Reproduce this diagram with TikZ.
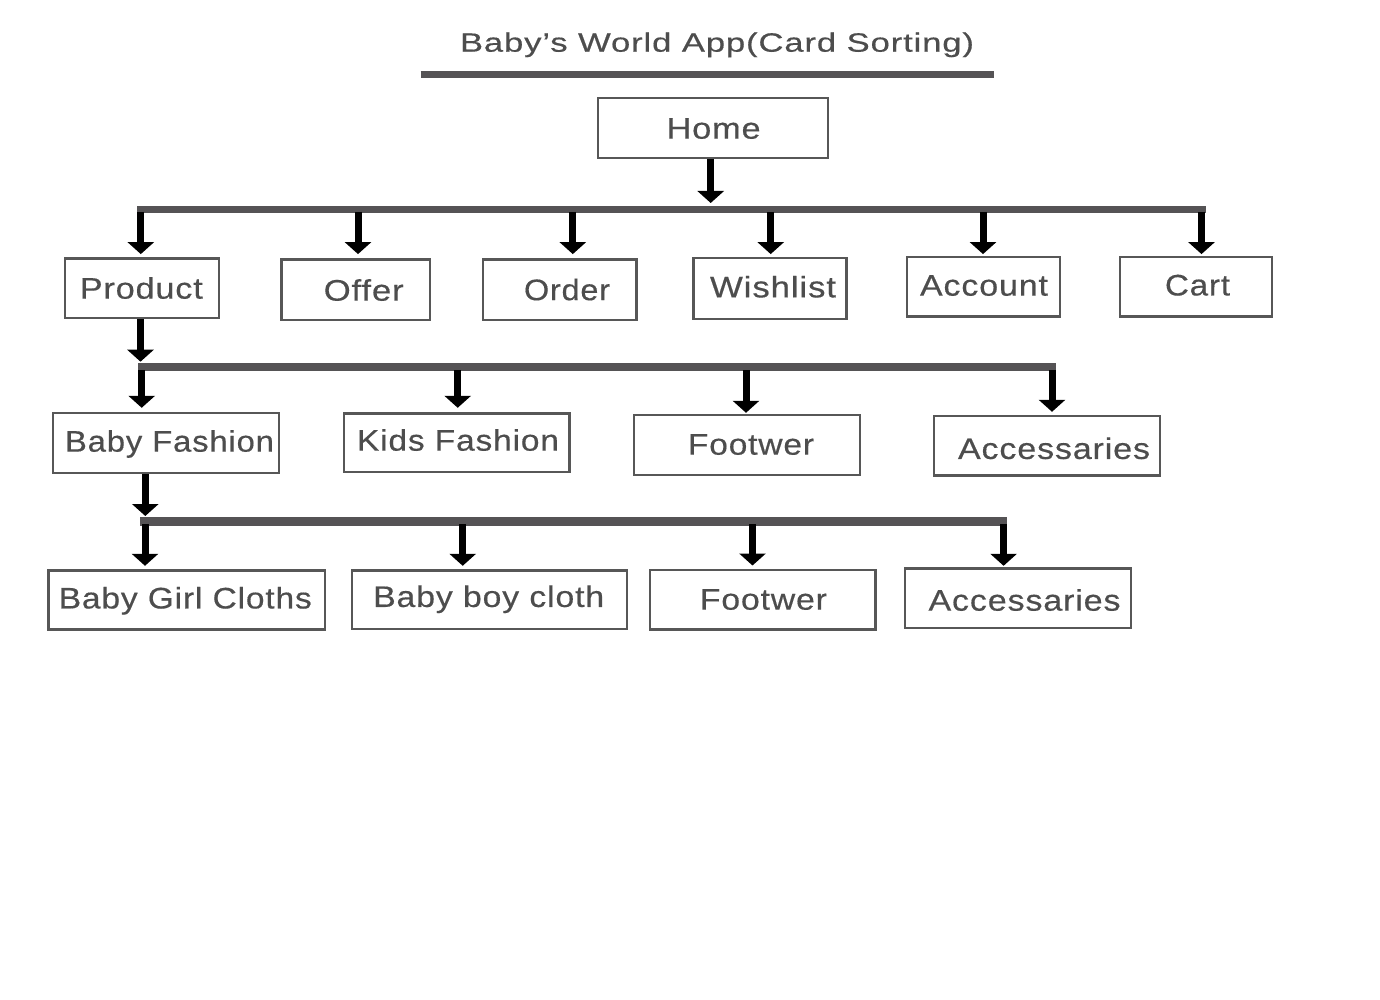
\documentclass[tikz,border=0pt]{standalone}
\usepackage{fontspec}
\setmainfont{Liberation Sans}[LetterSpace=2.5, FakeBold=0.4]
\usetikzlibrary{arrows.meta}
\definecolor{textgray}{HTML}{4D4D4D}
\definecolor{boxgray}{HTML}{575757}
\definecolor{bargray}{HTML}{555355}
\tikzset{
  card/.style={draw=boxgray, line width=2.4pt, rectangle, inner sep=0pt, fill=white},
  lbl/.style={inner sep=0pt, text height=21.3pt, text depth=0pt, text=textgray,
              font=\fontsize{29.7}{34}\selectfont},
  bar/.style={draw=bargray, line cap=butt},
  arr/.style={draw=black, line width=7pt, line cap=butt,
              -{Triangle[width=26pt,length=12pt]}},
}
% name, left, right, top, bottom, text cx, text cy, text width, text
\newcommand\cardnode[9]{%
  \node[card, minimum width={#3-#2-2.4}, minimum height={#5-#4-2.4},
        label={[lbl, xshift={#6-(#2+#3)/2}, yshift={(#4+#5)/2-#7}]center:{\resizebox{#8pt}{\height}{#9}}}]
        (#1) at ({(#2+#3)/2},{(#4+#5)/2}) {};%
}
\begin{document}
\begin{tikzpicture}[x=1pt,y=-1pt]
\useasboundingbox[fill=white] (0,0) rectangle (1380,1000);

% title
\node[lbl, font=\fontsize{26.5}{30}\selectfont, text height=19pt] (title) at (717,42.2)
  {\resizebox{514pt}{\height}{Baby’s World App(Card Sorting)}};
\coordinate (ul1) at (420.5,74.3);
\coordinate (ul2) at (993.7,74.3);
\draw[bar, line width=6.5pt] (ul1) -- (ul2);

% boxes
\cardnode{home}{597}{829}{97}{159}{713.6}{128}{94}{Home}
\cardnode{product}{64}{220}{257.3}{319.3}{141.3}{288}{123}{Product}
\cardnode{offer}{280.3}{431.3}{258.3}{321}{363.7}{290}{80}{Offer}
\cardnode{order}{482}{637.6}{258.3}{321}{567}{289.5}{86}{Order}
\cardnode{wishlist}{692.4}{847.7}{257}{320}{773}{286.7}{126}{Wishlist}
\cardnode{account}{905.8}{1061}{256}{317.7}{984}{285}{128}{Account}
\cardnode{cart}{1118.5}{1273.4}{256}{317.7}{1197.5}{284.8}{65}{Cart}

\cardnode{babyf}{51.7}{280}{411.7}{474}{169.5}{441}{209}{Baby Fashion}
\cardnode{kidsf}{342.7}{570.7}{412.3}{473.3}{458}{440}{202}{Kids Fashion}
\cardnode{footA}{632.6}{861}{414}{476}{751}{444}{126}{Footwer}
\cardnode{accA}{932.6}{1161}{415}{476.7}{1054}{448.3}{192}{Accessaries}

\cardnode{girl}{47.3}{326}{569.3}{630.7}{185.3}{597.8}{253}{Baby Girl Cloths}
\cardnode{boy}{351}{628.3}{569.3}{630}{488.7}{596.3}{231}{Baby boy cloth}
\cardnode{footB}{648.6}{876.8}{568.7}{630.7}{763.4}{599}{127}{Footwer}
\cardnode{accB}{903.6}{1132}{567.3}{629}{1024.5}{600}{192}{Accessaries}

% bars
\coordinate (b1l) at (137,209.5);   \coordinate (b1r) at (1205.5,209.5);
\coordinate (b2l) at (138.2,367.3); \coordinate (b2r) at (1055.5,367.3);
\coordinate (b3l) at (140,521.3);   \coordinate (b3r) at (1007,521.3);
\draw[bar, line width=6.7pt] (b1l) -- (b1r);
\draw[bar, line width=8pt] (b2l) -- (b2r);
\draw[bar, line width=8.5pt] (b3l) -- (b3r);

% arrows into bars
\coordinate (hb) at (710.7,203);
\coordinate (pb) at (140.5,361.7);
\coordinate (fb) at (145.3,516);
\draw[arr] (hb |- home.south) -- (hb);
\draw[arr] (pb |- product.south) -- (pb);
\draw[arr] (fb |- babyf.south) -- (fb);

% row 1 arrows
\coordinate (r1a) at (140.8,212);
\coordinate (r1b) at (358,212);
\coordinate (r1c) at (572.8,212);
\coordinate (r1d) at (770.7,212);
\coordinate (r1e) at (983,212);
\coordinate (r1f) at (1201.5,212);
\draw[arr, shorten >=3.2pt] (r1a) -- (r1a |- product.north);
\draw[arr, shorten >=4.2pt] (r1b) -- (r1b |- offer.north);
\draw[arr, shorten >=4.2pt] (r1c) -- (r1c |- order.north);
\draw[arr, shorten >=2.9pt] (r1d) -- (r1d |- wishlist.north);
\draw[arr, shorten >=1.9pt] (r1e) -- (r1e |- account.north);
\draw[arr, shorten >=1.9pt] (r1f) -- (r1f |- cart.north);

% row 2 arrows
\coordinate (r2a) at (141.7,370);
\coordinate (r2b) at (457.7,370);
\coordinate (r2c) at (746,370);
\coordinate (r2d) at (1052,370);
\draw[arr, shorten >=3.9pt] (r2a) -- (r2a |- babyf.north);
\draw[arr, shorten >=4.5pt] (r2b) -- (r2b |- kidsf.north);
\draw[arr, shorten >=1.2pt] (r2c) -- (r2c |- footA.north);
\draw[arr, shorten >=3.2pt] (r2d) -- (r2d |- accA.north);

% row 3 arrows
\coordinate (r3a) at (145,524);
\coordinate (r3b) at (462.7,524);
\coordinate (r3c) at (752.5,524);
\coordinate (r3d) at (1003.6,524);
\draw[arr, shorten >=3.5pt] (r3a) -- (r3a |- girl.north);
\draw[arr, shorten >=3.5pt] (r3b) -- (r3b |- boy.north);
\draw[arr, shorten >=3.2pt] (r3c) -- (r3c |- footB.north);
\draw[arr, shorten >=1.5pt] (r3d) -- (r3d |- accB.north);
\end{tikzpicture}
\end{document}
